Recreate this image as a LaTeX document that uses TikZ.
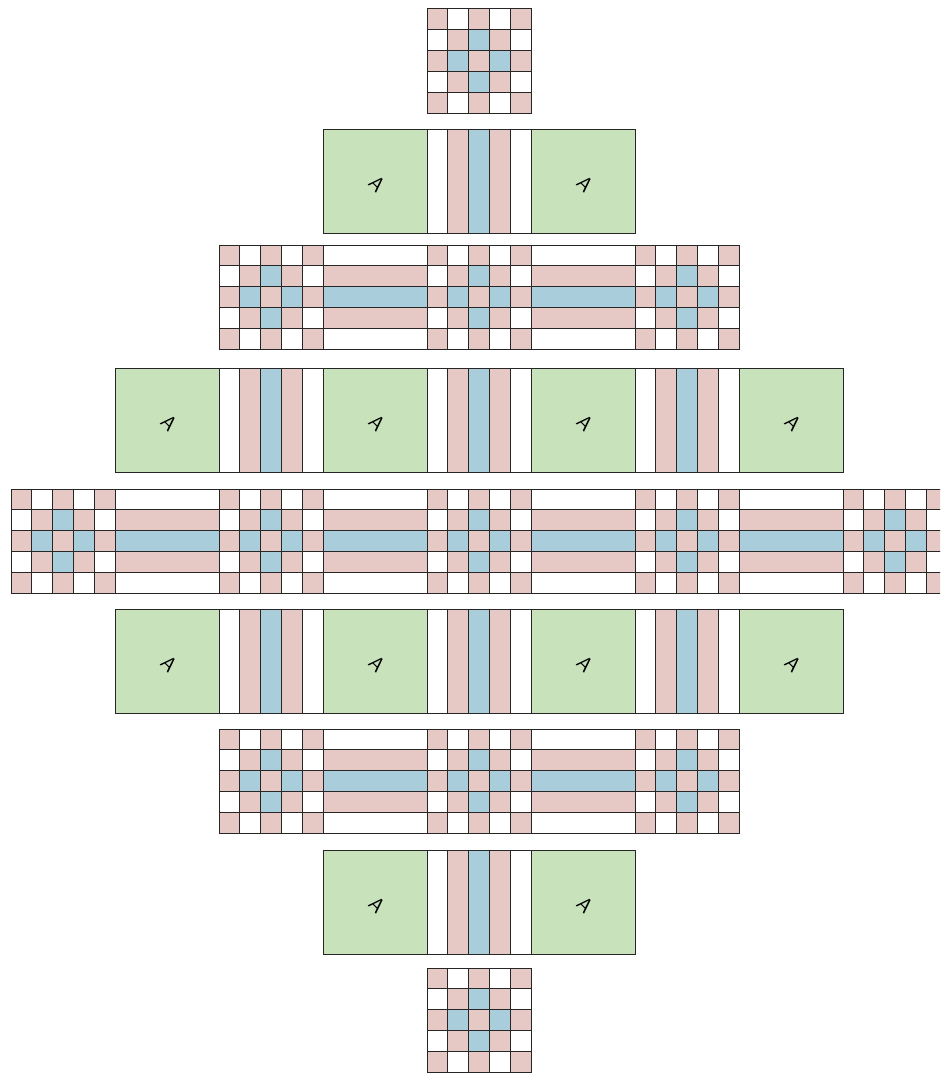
\documentclass[tikz,border=0pt]{standalone}
\usepackage{tikz}

\definecolor{pinkpatch}{RGB}{230,201,197}
\definecolor{bluepatch}{RGB}{170,205,220}
\definecolor{greenpatch}{RGB}{200,227,187}

\begin{document}
\begin{tikzpicture}[
    x=1pt, y=-1pt,
    patch/.style={draw=black!85, line width=1pt},
    letter/.style={font=\sffamily\huge, rotate=-45, inner sep=0pt},
    gridblk/.pic={
      \foreach \r/\row in {0/{pinkpatch,white,pinkpatch,white,pinkpatch},
                           1/{white,pinkpatch,bluepatch,pinkpatch,white},
                           2/{pinkpatch,bluepatch,pinkpatch,bluepatch,pinkpatch},
                           3/{white,pinkpatch,bluepatch,pinkpatch,white},
                           4/{pinkpatch,white,pinkpatch,white,pinkpatch}}
        \foreach \f [count=\c from 0] in \row
          \draw[patch, fill=\f] (\c*20.8,\r*20.8) rectangle ++(20.8,20.8);
    },
    hstrip/.pic={
      \foreach \f [count=\r from 0] in {white,pinkpatch,bluepatch,pinkpatch,white}
        \draw[patch, fill=\f] (0,\r*20.8) rectangle ++(104,20.8);
    },
    vstrip/.pic={
      \foreach \f [count=\c from 0] in {white,pinkpatch,bluepatch,pinkpatch,white}
        \draw[patch, fill=\f] (\c*20.8,0) rectangle ++(20.8,104);
    },
    tile/.pic={
      \draw[patch, fill=greenpatch] (0,0) rectangle (104,104);
      \node[letter] (-a) at (54,55) {A};
    },
  ]
  \clip (0,0) rectangle (940,1073);
  % rows of blocks, each row centred on x=479
  \foreach \y/\n/\row in {
      9/1/{gridblk},
      129/3/{tile,vstrip,tile},
      245/5/{gridblk,hstrip,gridblk,hstrip,gridblk},
      368/7/{tile,vstrip,tile,vstrip,tile,vstrip,tile},
      489/9/{gridblk,hstrip,gridblk,hstrip,gridblk,hstrip,gridblk,hstrip,gridblk},
      609/7/{tile,vstrip,tile,vstrip,tile,vstrip,tile},
      729/5/{gridblk,hstrip,gridblk,hstrip,gridblk},
      850/3/{tile,vstrip,tile},
      968/1/{gridblk}}
    \foreach \p [count=\k from 0] in \row
      \pic (b\y-\k) at ({479-52*\n+104*\k},\y) {\p};
\end{tikzpicture}
\end{document}
